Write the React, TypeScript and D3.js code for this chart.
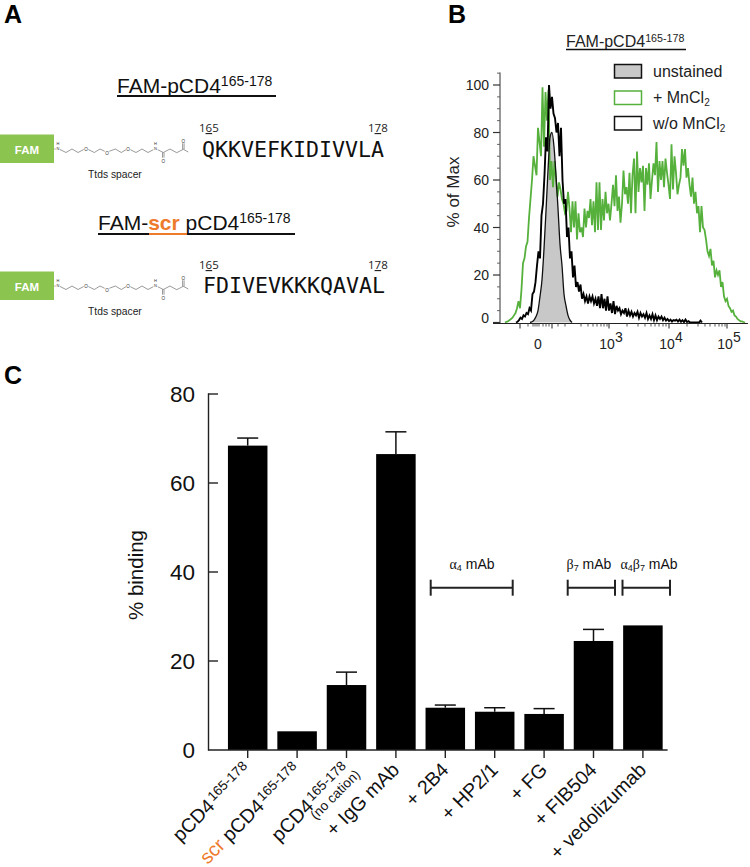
import React from "react";
import * as d3 from "d3";

// ---------- Panel C data ----------
const barLabels = ["pCD4", "scr pCD4", "pCD4 nc", "+ IgG mAb", "+ 2B4", "+ HP2/1", "+ FG", "+ FIB504", "+ vedolizumab"];
const barValues = [68.4, 4.2, 14.6, 66.5, 9.5, 8.6, 8.1, 24.5, 28];
const barErrorTops = [70.1, null, 17.5, 71.5, 10.1, 9.5, 9.3, 27.1, null];
const barTicks = [0, 20, 40, 60, 80];

// ---------- Panel B data (channels are display units of the biexponential axis) ----------
const greenStart = 12;
const greenStep = 1.5;
const greenValues = [
  0, 0.3, 0.5, 1, 1.5, 2, 3, 4, 6, 9, 6, 14, 25, 27, 32, 34, 44, 52, 60, 70, 66, 62, 82, 76, 70, 99, 74, 97, 85, 98,
  60, 68, 57, 68, 60, 53, 59, 56, 52, 50, 46, 47, 55, 48, 38, 51, 40, 51, 35, 46, 38, 40, 36, 48, 40, 47, 44, 52,
  41, 51, 38, 59, 39, 59, 39, 52, 43, 55, 46, 50, 43, 50, 58, 49, 62, 47, 53, 42, 50, 64, 54, 57, 50, 63, 46, 62,
  69, 46, 72, 55, 65, 59, 66, 47, 65, 58, 67, 52, 60, 67, 62, 76, 55, 68, 60, 68, 57, 69, 63, 58, 52, 75, 56, 70,
  63, 54, 58, 61, 73, 66, 73, 61, 65, 58, 53, 61, 50, 55, 46, 49, 38, 49, 40, 39, 35, 30, 28, 31, 24, 26, 19, 22,
  20, 22, 15, 17, 11, 9, 10, 7, 6, 4.5, 5, 3, 2.5, 1.5, 1, 0.5, 0.5, 0.2, 0,
];
const blackStart = 23;
const blackStep = 1.5;
const blackValues = [
  0, 0.3, 1, 2, 1.5, 3, 2.5, 4, 3.5, 6, 5, 12, 13, 17, 24, 30, 27, 45, 50, 62, 78, 72, 100, 90, 95, 88, 86, 80, 84,
  70, 82, 60, 50, 52, 36, 40, 27, 30, 19, 24, 15, 17, 13, 16, 10, 12, 9, 11, 8, 11, 9, 11, 8, 10, 7, 11, 6, 12, 6,
  10, 5, 11, 5, 8, 4, 9, 3.5, 7, 5, 6, 3.5, 5, 4, 6, 2.5, 5, 3, 4.5, 2.5, 4, 3, 4.5, 2, 4, 2.5, 3.5, 2, 4, 1.5, 3,
  1.5, 3.5, 1, 3, 1, 2.5, 1.5, 2.5, 1, 2, 0.8, 1.5, 0.6, 1.2, 0.4, 1, 0.8, 1.2, 0.4, 1.2, 0.3, 1, 0.2, 1.2, 0.2,
  0.6, 0, 0, 0, 0, 0, 0, 0, 0.8, 0,
];
const grayChannels = [37, 39, 41, 43, 45, 47, 49, 51, 53, 55, 56, 57, 59, 61, 63, 65, 67, 69, 71, 73, 75, 77, 79];
const grayValues = [0, 0.3, 1, 2.5, 5, 11, 18, 31, 47, 64, 72, 78, 80, 74, 62, 48, 33, 24, 12, 7, 3, 1, 0];
const flowYTicks = [0, 20, 40, 60, 80, 100];
const flowYMinor = [5, 10, 15, 25, 30, 35, 45, 50, 55, 65, 70, 75, 85, 90, 95, 105];
const flowXMajor = [27, 59, 116, 176, 234];
const flowXMinor = [35, 40, 42, 44, 46, 50, 53, 56, 65, 72, 88, 95, 100, 104, 108, 111, 114, 134, 145, 152, 158, 162, 166, 170, 173, 194, 205, 212, 217, 222, 226, 229, 232];
const flowXLabels = [{ c: 45, t: "0", e: "" }, { c: 116, t: "10", e: "3" }, { c: 176, t: "10", e: "4" }, { c: 234, t: "10", e: "5" }];

// ---------- Panel A data ----------
const seqA = "QKKVEFKIDIVVLA";
const seqB = "FDIVEVKKKQAVAL";
const linkerSegments: [number, number][][] = [
  [[60, 149.5], [66, 152.5], [72, 149], [78, 152.5], [83.7, 149.5]],
  [[88.3, 149.5], [94.3, 152.5], [100, 149], [104.7, 151.3]],
  [[109.3, 151.3], [115.3, 149], [121.3, 152.5], [126, 149.7]],
  [[130.3, 149.7], [136, 152.5], [142, 149], [148, 152.5], [153.3, 149.7]],
  [[157.7, 149.7], [163.3, 152.5], [170, 149], [176.7, 152.7], [183.3, 149.3], [188.3, 152]],
  [[162.5, 152.5], [162.5, 157.7]],
  [[164, 152.5], [164, 157.7]],
  [[182.6, 149.3], [182.6, 143.3]],
  [[184.1, 149.3], [184.1, 143.3]],
];
const linkerO: [number, number][] = [[86, 149.3], [107, 153.5], [128, 149.3], [163.3, 161], [183.3, 141]];

const font = "'Liberation Sans', Arial, sans-serif";
const GREEN = "#55b03c";
const ORANGE = "#ee7a2b";

function Spacer({ dy }: { dy: number }) {
  const line = d3.line();
  return (
    <g transform={`translate(0,${dy})`} fontFamily={font}>
      <rect x={0} y={134.5} width={54} height={28.5} fill="#8cc450" />
      <text x={27} y={153.5} textAnchor="middle" fill="#fff" fontWeight={700} fontSize={11.5}>FAM</text>
      <line x1={54} x2={56} y1={149} y2={149} stroke="#888" strokeWidth={0.6} />
      {linkerSegments.map((s, i) => (
        <path key={i} d={line(s) || ""} fill="none" stroke="#555" strokeWidth={0.6} />
      ))}
      {linkerO.map((o, i) => (
        <text key={i} x={o[0]} y={o[1] + 1.6} textAnchor="middle" fontSize={4.6} fill="#333">O</text>
      ))}
      <text x={58} y={145} textAnchor="middle" fontSize={4} fill="#333">H</text>
      <text x={58} y={150} textAnchor="middle" fontSize={4} fill="#333">N</text>
      <text x={155.5} y={145} textAnchor="middle" fontSize={4} fill="#333">H</text>
      <text x={155.5} y={150} textAnchor="middle" fontSize={4} fill="#333">N</text>
      <text x={88} y={178} fontSize={10.3} fill="#222">Ttds spacer</text>
    </g>
  );
}

function Resnum({ x, y, t }: { x: number; y: number; t: string }) {
  return (
    <text x={x} y={y} fontSize={11.5} fontFamily="'Open Sans', sans-serif" fill="#222">
      {t[0]}
      <tspan textDecoration="underline">{t[1]}</tspan>
      {t[2]}
    </text>
  );
}

function Sequence({ x, y, s }: { x: number; y: number; s: string }) {
  return (
    <text x={x} y={y} fontFamily="'DejaVu Sans Mono', monospace" fontSize={21.6} fill="#111">{s}</text>
  );
}

function PanelA() {
  return (
    <g>
      <text x={4} y={23} fontFamily={font} fontWeight={700} fontSize={25} fill="#000">A</text>
      <text x={117} y={93} fontFamily={font} fontSize={21} fill="#111">
        FAM-pCD4<tspan dy={-7} fontSize={14}>165-178</tspan>
      </text>
      <line x1={117} x2={276} y1={96} y2={96} stroke="#111" strokeWidth={2} />
      <Spacer dy={0} />
      <Resnum x={199} y={132} t="165" />
      <Resnum x={368} y={132} t="178" />
      <Sequence x={202} y={157} s={seqA} />
      <text x={98} y={230} fontFamily={font} fontSize={21} fill="#111">
        FAM-<tspan fill={ORANGE} fontWeight={700}>scr</tspan> pCD4<tspan dy={-7} fontSize={14}>165-178</tspan>
      </text>
      <line x1={98} x2={149} y1={234} y2={234} stroke="#111" strokeWidth={2} />
      <line x1={149} x2={187} y1={234} y2={234} stroke={ORANGE} strokeWidth={2} />
      <line x1={187} x2={295} y1={234} y2={234} stroke="#111" strokeWidth={2} />
      <Spacer dy={137} />
      <Resnum x={199} y={269} t="165" />
      <Resnum x={368} y={269} t="178" />
      <Sequence x={203} y={293} s={seqB} />
    </g>
  );
}

function PanelB() {
  const x = d3.scaleLinear().domain([0, 255]).range([493, 748]);
  const y = d3.scaleLinear().domain([0, 100]).range([322.5, 85]);
  const lineOf = (start: number, step: number) =>
    d3.line<number>().x((_, i) => x(start + i * step)).y((v) => y(v));
  const grayArea = d3
    .area<number>()
    .x((_, i) => x(grayChannels[i]))
    .y0(y(0))
    .y1((v) => y(v))
    .curve(d3.curveMonotoneX);
  const grayLine = d3
    .line<number>()
    .x((_, i) => x(grayChannels[i]))
    .y((v) => y(v))
    .curve(d3.curveMonotoneX);
  const ax = x(7);
  const axisY = 323.5;
  return (
    <g fontFamily={font} fill="#222">
      <text x={448} y={23} fontWeight={700} fontSize={25} fill="#000">B</text>
      <text x={566} y={46.5} fontSize={16}>
        FAM-pCD4<tspan dy={-5} fontSize={10.7}>165-178</tspan>
      </text>
      <line x1={566} x2={686} y1={49.5} y2={49.5} stroke="#111" strokeWidth={1.5} />

      <path d={grayArea(grayValues) || ""} fill="#c8c8c8" stroke="none" />
      <path d={lineOf(greenStart, greenStep)(greenValues) || ""} fill="none" stroke={GREEN} strokeWidth={1.8} />
      <path d={grayLine(grayValues) || ""} fill="none" stroke="#111" strokeWidth={1.3} />
      <path d={lineOf(blackStart, blackStep)(blackValues) || ""} fill="none" stroke="#000" strokeWidth={1.9} />

      <line x1={ax} x2={ax} y1={72.5} y2={axisY} stroke="#333" strokeWidth={1} />
      {flowYTicks.map((t) => (
        <g key={t}>
          <line x1={ax - 7} x2={ax} y1={y(t)} y2={y(t)} stroke="#333" strokeWidth={1.2} />
          <text x={489} y={t === 0 ? y(t) + 0 : y(t) + 5} textAnchor="end" fontSize={14}>{t}</text>
        </g>
      ))}
      {flowYMinor.map((t) => (
        <line key={t} x1={ax - 3} x2={ax} y1={y(t)} y2={y(t)} stroke="#555" strokeWidth={0.9} />
      ))}
      <text transform={`translate(459,${192}) rotate(-90)`} textAnchor="middle" fontSize={17}>% of Max</text>

      <line x1={x(0)} x2={x(255)} y1={axisY} y2={axisY} stroke="#222" strokeWidth={1.2} />
      {flowXMajor.map((c) => (
        <line key={c} x1={x(c)} x2={x(c)} y1={axisY} y2={axisY + 5} stroke="#333" strokeWidth={1.1} />
      ))}
      {flowXMinor.map((c) => (
        <line key={c} x1={x(c)} x2={x(c)} y1={axisY} y2={axisY + 3} stroke="#444" strokeWidth={0.9} />
      ))}
      {flowXLabels.map((l) => (
        <text key={l.c} x={x(l.c) + (l.e ? 2 : 0)} y={348.5} textAnchor="middle" fontSize={14}>
          {l.t}
          {l.e && <tspan dy={-7} fontSize={14}>{l.e}</tspan>}
        </text>
      ))}

      <rect x={614.5} y={64.5} width={27} height={13.5} fill="#c8c8c8" stroke="#111" strokeWidth={1.5} />
      <rect x={614.5} y={91} width={27} height={13.5} fill="#fff" stroke={GREEN} strokeWidth={1.5} />
      <rect x={614.5} y={116.5} width={27} height={13.5} fill="#fff" stroke="#111" strokeWidth={1.5} />
      <text x={653} y={76.5} fontSize={16}>unstained</text>
      <text x={653} y={103} fontSize={16}>+ MnCl<tspan dy={3} fontSize={10}>2</tspan></text>
      <text x={653} y={129} fontSize={16}>w/o MnCl<tspan dy={3} fontSize={10}>2</tspan></text>
    </g>
  );
}

function Bracket({ x1, x2, y }: { x1: number; x2: number; y: number }) {
  return (
    <g stroke="#222" strokeWidth={2}>
      <line x1={x1} x2={x2} y1={y} y2={y} />
      <line x1={x1} x2={x1} y1={y - 8} y2={y + 8} />
      <line x1={x2} x2={x2} y1={y - 8} y2={y + 8} />
    </g>
  );
}

function BarLabel({ name, x }: { name: string; x: number }) {
  const tf = `translate(${x + 4.5},${771}) rotate(-45)`;
  const fs = 19.5;
  if (name === "pCD4" || name === "scr pCD4" || name === "pCD4 nc") {
    const sup = 13.5;
    return (
      <g fontFamily={font} fill="#111">
        <text transform={tf} textAnchor="end" fontSize={fs}>
          {name === "scr pCD4" && <tspan fill={ORANGE}>scr </tspan>}
          pCD4<tspan dy={-6} dx={2} fontSize={sup}>165-178</tspan>
        </text>
        {name === "pCD4 nc" && (
          <text transform={tf} textAnchor="end" fontSize={13.5} y={10} x={4}>(no cation)</text>
        )}
      </g>
    );
  }
  return (
    <text transform={tf} textAnchor="end" fontFamily={font} fontSize={fs} fill="#111">{name}</text>
  );
}

function PanelC() {
  const x = d3.scaleBand<string>().domain(barLabels).range([223, 667.6]).paddingInner(0.2).paddingOuter(0.1);
  const y = d3.scaleLinear().domain([0, 80]).range([750, 394]);
  const axisX = 208.5;
  return (
    <g fontFamily={font} fill="#111">
      <text x={4} y={384} fontWeight={700} fontSize={25} fill="#000">C</text>
      {barLabels.map((l, i) => {
        const cx = (x(l) as number) + x.bandwidth() / 2;
        const top = barErrorTops[i];
        return (
          <g key={l}>
            <rect x={x(l)} y={y(barValues[i])} width={x.bandwidth()} height={y(0) - y(barValues[i])} fill="#000" />
            {top !== null && (
              <g stroke="#111" strokeWidth={1.5}>
                <line x1={cx} x2={cx} y1={y(barValues[i])} y2={y(top)} />
                <line x1={cx - 10.5} x2={cx + 10.5} y1={y(top)} y2={y(top)} />
              </g>
            )}
            <line x1={cx} x2={cx} y1={750} y2={758} stroke="#222" strokeWidth={1.4} />
            <BarLabel name={l} x={cx} />
          </g>
        );
      })}
      <line x1={axisX} x2={axisX} y1={y(80) - 0.7} y2={750.7} stroke="#222" strokeWidth={1.4} />
      <line x1={axisX} x2={667.6} y1={750} y2={750} stroke="#222" strokeWidth={1.4} />
      {barTicks.map((t) => (
        <g key={t}>
          {t > 0 && <line x1={axisX} x2={218} y1={y(t)} y2={y(t)} stroke="#222" strokeWidth={1.4} />}
          <text x={195} y={y(t) + 8} textAnchor="end" fontSize={22.5}>{t}</text>
        </g>
      ))}
      <text transform="translate(143,575) rotate(-90)" textAnchor="middle" fontSize={20.5}>% binding</text>

      <Bracket x1={430.7} x2={512.7} y={587.7} />
      <Bracket x1={567.7} x2={615} y={587.7} />
      <Bracket x1={622.5} x2={670} y={587.7} />
      <text x={472} y={569} textAnchor="middle" fontSize={14}>
        <tspan fontFamily="'Liberation Serif', serif">α</tspan><tspan dy={2} fontSize={9}>4</tspan><tspan dy={-2}> mAb</tspan>
      </text>
      <text x={589} y={569} textAnchor="middle" fontSize={14}>
        <tspan fontFamily="'Liberation Serif', serif">β</tspan><tspan dy={2} fontSize={9}>7</tspan><tspan dy={-2}> mAb</tspan>
      </text>
      <text x={649} y={569} textAnchor="middle" fontSize={14}>
        <tspan fontFamily="'Liberation Serif', serif">α</tspan><tspan dy={2} fontSize={9}>4</tspan><tspan dy={-2} fontFamily="'Liberation Serif', serif">β</tspan><tspan dy={2} fontSize={9}>7</tspan><tspan dy={-2}> mAb</tspan>
      </text>
    </g>
  );
}

export default function App() {
  return (
    <svg width={750} height={867} viewBox="0 0 750 867" style={{ position: "absolute", left: 0, top: 0, background: "#fff" }}>
      <PanelA />
      <PanelB />
      <PanelC />
    </svg>
  );
}
